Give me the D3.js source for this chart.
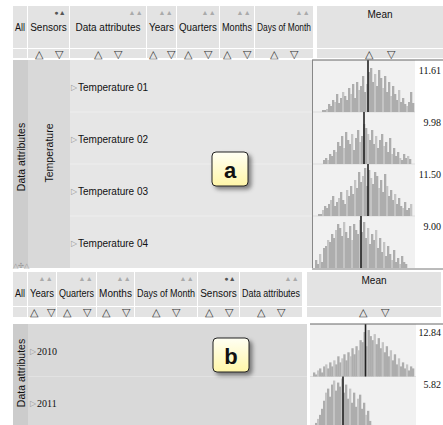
<!DOCTYPE html>
<html><head><meta charset="utf-8">
<script src="https://cdn.jsdelivr.net/npm/d3@7"></script>
<style>body{margin:0;background:#fff}svg{display:block}</style>
</head><body>
<script>
// ---------- data ----------
const dimsA = ["All","Sensors","Data attributes","Years","Quarters","Months","Days of Month"];
const dimsB = ["All","Years","Quarters","Months","Days of Month","Sensors","Data attributes"];
const activeDimA = "Sensors";
const activeDimB = "Sensors";
const rowsA = ["Temperature 01","Temperature 02","Temperature 03","Temperature 04"];
const meansA = [11.61, 9.98, 11.50, 9.00];
const rowsB = ["2010","2011"];
const meansB = [12.84, 5.82];
const groupA = "Temperature";
const outerLabel = "Data attributes";
const measure = "Mean";
// histogram bin counts (hand-read)
const histA1 = [2,2,3,8,6,12,10,18,9,14,20,16,12,24,18,28,14,30,22,26,36,20,28,40,44,30,38,26,42,34,24,36,20,30,16,26,18,12,22,10,14,8,6,10,20,9];
const histA2 = [4,6,4,10,8,14,12,22,18,28,16,32,24,20,30,14,26,34,22,28,40,36,30,24,34,20,28,16,24,30,18,22,12,26,10,16,8,12,6,4,10,6,8,5];
const histA3 = [2,2,6,10,8,12,16,20,10,14,18,24,16,12,26,20,30,22,36,28,44,34,40,48,30,46,38,32,44,40,28,36,24,42,30,20,26,16,22,12,18,10,8,14,6,8,12];
const histA4 = [8,4,14,6,20,22,28,26,34,30,38,44,40,32,46,36,30,42,28,44,38,34,48,36,46,30,40,24,34,28,38,20,30,16,26,12,22,14,8,18,6,10,4,12,6,4];
const histB1 = [4,2,6,8,4,10,12,8,14,10,16,12,20,14,18,22,16,24,20,28,22,30,26,36,34,44,30,46,40,36,42,32,38,28,34,24,30,20,26,16,22,12,18,10,14,8,12,6,10,8];
const histB2 = [4,6,10,14,20,28,36,40,32,44,48,38,46,42,50,36,44,30,40,26,36,22,30,34,20,26,14,18,8,4];
// bin index of the mean marker in each histogram
const meanBinA = [23, 20.5, 25, 23];
const meanBinB = [26, 15];

// ---------- layout ----------
const W = 443, H = 425;
const svg = d3.select("body").append("svg").attr("width", W).attr("height", H)
  .style("font-family", "'Liberation Sans', Arial, sans-serif");
const defs = svg.append("defs");
const grad = defs.append("linearGradient").attr("id","yg").attr("x1",0).attr("y1",0).attr("x2",0).attr("y2",1);
grad.append("stop").attr("offset","0%").attr("stop-color","#fffff4");
grad.append("stop").attr("offset","100%").attr("stop-color","#fff6a8");
const flt = defs.append("filter").attr("id","sh").attr("x","-30%").attr("y","-30%").attr("width","180%").attr("height","180%");
flt.append("feDropShadow").attr("dx",3).attr("dy",3).attr("stdDeviation",2).attr("flood-color","#000").attr("flood-opacity",0.45);

function fitText(sel, maxW) {
  const w = sel.node().getComputedTextLength();
  if (w > maxW) sel.attr("textLength", maxW).attr("lengthAdjust", "spacingAndGlyphs");
}

function header(g, dims, bounds, active, y0, yLab, ySort0, ySort1) {
  dims.forEach((d, i) => {
    const x0 = bounds[i], x1 = bounds[i+1];
    g.append("rect").attr("x", x0).attr("y", y0).attr("width", x1 - x0 - 1).attr("height", ySort0 - y0 - 1).attr("fill", "#e3e3e3");
    g.append("rect").attr("x", x0).attr("y", ySort0).attr("width", x1 - x0 - 1).attr("height", ySort1 - ySort0).attr("fill", "#e3e3e3");
    const t = g.append("text").attr("x", (x0 + x1 - 1) / 2).attr("y", yLab).attr("text-anchor", "middle")
      .attr("dominant-baseline", "central").attr("font-size", 10).attr("fill", "#111").text(d);
    fitText(t, x1 - x0 - 5);
    if (d !== "All") {
      const icon = d === active ? "●▲" : "▲▲";
      g.append("text").attr("x", x1 - 4).attr("y", y0 + 6).attr("text-anchor", "end")
        .attr("dominant-baseline", "central").attr("font-size", 7).attr("letter-spacing", 0.3)
        .attr("fill", d === active ? "#555" : "#aaa").text(icon);
      const cx = (x0 + x1 - 1) / 2, off = Math.min(10, (x1 - x0) / 2 - 6);
      g.append("text").attr("x", cx - off).attr("y", (ySort0 + ySort1) / 2).attr("text-anchor", "middle")
        .attr("dominant-baseline", "central").attr("font-size", 10.5).attr("fill", "#333").text("△");
      g.append("text").attr("x", cx + off).attr("y", (ySort0 + ySort1) / 2).attr("text-anchor", "middle")
        .attr("dominant-baseline", "central").attr("font-size", 10.5).attr("fill", "#333").text("▽");
    }
  });
}

function meanHeader(g, x0, x1, y0, ySort0, ySort1) {
  g.append("rect").attr("x", x0).attr("y", y0).attr("width", x1 - x0).attr("height", ySort0 - y0 - 1).attr("fill", "#e3e3e3");
  g.append("rect").attr("x", x0).attr("y", ySort0).attr("width", x1 - x0).attr("height", ySort1 - ySort0).attr("fill", "#e3e3e3");
  const cx = (x0 + x1) / 2;
  g.append("text").attr("x", cx).attr("y", y0 + 8).attr("text-anchor", "middle").attr("dominant-baseline", "central")
    .attr("font-size", 10).attr("fill", "#111").text(measure);
  g.append("text").attr("x", cx - 11).attr("y", (ySort0 + ySort1) / 2).attr("text-anchor", "middle")
    .attr("dominant-baseline", "central").attr("font-size", 10.5).attr("fill", "#333").text("△");
  g.append("text").attr("x", cx + 11).attr("y", (ySort0 + ySort1) / 2).attr("text-anchor", "middle")
    .attr("dominant-baseline", "central").attr("font-size", 10.5).attr("fill", "#333").text("▽");
}

function histogram(g, data, meanBin, x0, x1, base, h, cellTop, cellBot) {
  const x = d3.scaleBand().domain(d3.range(data.length)).range([x0, x1]).paddingInner(0);
  const y = d3.scaleLinear().domain([0, 52]).range([base, base - h]);
  g.selectAll(null).data(data).join("rect")
    .attr("x", (d, i) => x(i)).attr("width", x.bandwidth() + 0.3)
    .attr("y", d => y(d)).attr("height", d => base - y(d))
    .attr("fill", (d, i) => (i % 4 === 2 ? "#c4c4c4" : "#adadad"));
  const mx = x0 + meanBin * x.step();
  g.append("line").attr("x1", mx).attr("x2", mx).attr("y1", cellTop).attr("y2", cellBot)
    .attr("stroke", "#222").attr("stroke-width", 1.6);
}

function tag(g, cx, cy, t) {
  g.append("rect").attr("x", cx - 18).attr("y", cy - 17).attr("width", 36).attr("height", 34).attr("rx", 4)
    .attr("fill", "url(#yg)").attr("stroke", "#222").attr("stroke-width", 1).attr("filter", "url(#sh)");
  g.append("text").attr("x", cx).attr("y", cy + 1).attr("text-anchor", "middle").attr("dominant-baseline", "central")
    .attr("font-size", 22).attr("font-weight", "bold").attr("font-family", "'Liberation Sans', Arial, sans-serif")
    .attr("fill", "#111").text(t);
}

// ================= Panel a =================
const gA = svg.append("g");
const boundsA = [13, 28, 70, 147, 177, 220, 255, 314];
header(gA, dimsA, boundsA, activeDimA, 6, 27, 49, 58);
meanHeader(gA, 317, 443, 6, 49, 58);

const bodyA0 = 60, bodyA1 = 268;
gA.append("rect").attr("x", 13).attr("y", bodyA0).attr("width", 300).attr("height", bodyA1 - bodyA0).attr("fill", "#e6e6e6");
gA.append("rect").attr("x", 13).attr("y", bodyA0).attr("width", 15).attr("height", bodyA1 - bodyA0).attr("fill", "#cdcdcd");
gA.append("rect").attr("x", 28).attr("y", bodyA0).attr("width", 42).attr("height", bodyA1 - bodyA0).attr("fill", "#d9d9d9");
gA.append("text").attr("transform", `translate(21,157) rotate(-90)`).attr("text-anchor", "middle")
  .attr("dominant-baseline", "central").attr("font-size", 10.5).attr("fill", "#111").text(outerLabel);
gA.append("text").attr("transform", `translate(49,153) rotate(-90)`).attr("text-anchor", "middle")
  .attr("dominant-baseline", "central").attr("font-size", 10.5).attr("fill", "#111").text(groupA);

const rowA = d3.scaleBand().domain(rowsA).range([bodyA0, bodyA1]);
rowsA.forEach((r, i) => {
  const y0 = rowA(r), hh = rowA.bandwidth();
  if (i > 0) gA.append("line").attr("x1", 70).attr("x2", 313).attr("y1", y0).attr("y2", y0).attr("stroke", "#eeeeee");
  gA.append("text").attr("x", 71).attr("y", y0 + 27).attr("dominant-baseline", "central").attr("font-size", 8).attr("fill", "#999").text("▷");
  gA.append("text").attr("x", 78).attr("y", y0 + 27).attr("dominant-baseline", "central").attr("font-size", 10).attr("fill", "#111").text(r);
  gA.append("rect").attr("x", 313).attr("y", y0).attr("width", 102).attr("height", hh).attr("fill", "#f1f1f1");
  if (i > 0) gA.append("line").attr("x1", 313).attr("x2", 415).attr("y1", y0).attr("y2", y0).attr("stroke", "#dddddd");
  gA.append("text").attr("x", 441).attr("y", y0 + 10).attr("text-anchor", "end").attr("dominant-baseline", "central")
    .attr("font-family", "'Liberation Serif','DejaVu Serif',serif").attr("font-size", 10).attr("fill", "#111")
    .text(d3.format(".2f")(meansA[i]));
});
const histsA = [histA1, histA2, histA3, histA4];
const hxA = [[322, 414], [323, 411], [318, 412], [315, 407]];
rowsA.forEach((r, i) => {
  const y0 = rowA(r), hh = rowA.bandwidth();
  histogram(gA, histsA[i], meanBinA[i], hxA[i][0], hxA[i][1], y0 + hh, hh, y0, y0 + hh);
});
gA.append("line").attr("x1", 312).attr("x2", 443).attr("y1", bodyA0).attr("y2", bodyA0).attr("stroke", "#666");
gA.append("line").attr("x1", 312.5).attr("x2", 312.5).attr("y1", bodyA0).attr("y2", bodyA1).attr("stroke", "#888");
gA.append("line").attr("x1", 312).attr("x2", 443).attr("y1", bodyA1 + 1).attr("y2", bodyA1 + 1).attr("stroke", "#777");
gA.append("text").attr("x", 13).attr("y", 265).attr("dominant-baseline", "central").attr("font-size", 7).attr("fill", "#999").text("△✣△");
tag(gA, 230, 169, "a");

// ================= Panel b =================
const gB = svg.append("g");
const boundsB = [13, 28, 57, 97, 135, 198, 240, 303];
header(gB, dimsB, boundsB, activeDimB, 272, 293, 307, 317);
meanHeader(gB, 307, 441, 272, 307, 317);

const bodyB0 = 324, bodyB1 = 430;
gB.append("rect").attr("x", 13).attr("y", bodyB0).attr("width", 294).attr("height", bodyB1 - bodyB0).attr("fill", "#d9d9d9");
gB.append("rect").attr("x", 13).attr("y", bodyB0).attr("width", 15).attr("height", bodyB1 - bodyB0).attr("fill", "#cccccc");
gB.append("text").attr("transform", `translate(21,373) rotate(-90)`).attr("text-anchor", "middle")
  .attr("dominant-baseline", "central").attr("font-size", 10.5).attr("fill", "#111").text(outerLabel);

const rowB = d3.scaleBand().domain(rowsB).range([bodyB0, bodyB0 + 2 * 52.5]);
rowsB.forEach((r, i) => {
  const y0 = rowB(r), hh = rowB.bandwidth();
  if (i > 0) gB.append("line").attr("x1", 28).attr("x2", 307).attr("y1", y0).attr("y2", y0).attr("stroke", "#e2e2e2");
  gB.append("text").attr("x", 30).attr("y", y0 + 27).attr("dominant-baseline", "central").attr("font-size", 8).attr("fill", "#999").text("▷");
  gB.append("text").attr("x", 37).attr("y", y0 + 27).attr("dominant-baseline", "central")
    .attr("font-family", "'Liberation Serif','DejaVu Serif',serif").attr("font-size", 10).attr("fill", "#111").text(r);
  gB.append("rect").attr("x", 310).attr("y", y0).attr("width", 106).attr("height", hh).attr("fill", "#f1f1f1");
  if (i > 0) gB.append("line").attr("x1", 310).attr("x2", 416).attr("y1", y0).attr("y2", y0).attr("stroke", "#dddddd");
  gB.append("text").attr("x", 441).attr("y", y0 + 8).attr("text-anchor", "end").attr("dominant-baseline", "central")
    .attr("font-family", "'Liberation Serif','DejaVu Serif',serif").attr("font-size", 10).attr("fill", "#111")
    .text(d3.format(".2f")(meansB[i]));
});
const histsB = [histB1, histB2];
const hxB = [[313, 414], [313, 373]];
rowsB.forEach((r, i) => {
  const y0 = rowB(r), hh = rowB.bandwidth();
  histogram(gB, histsB[i], meanBinB[i], hxB[i][0], hxB[i][1], y0 + hh, hh, y0, y0 + hh);
});
gB.append("line").attr("x1", 310).attr("x2", 443).attr("y1", bodyB0).attr("y2", bodyB0).attr("stroke", "#666");
tag(gB, 231, 355, "b");
</script>
</body></html>
